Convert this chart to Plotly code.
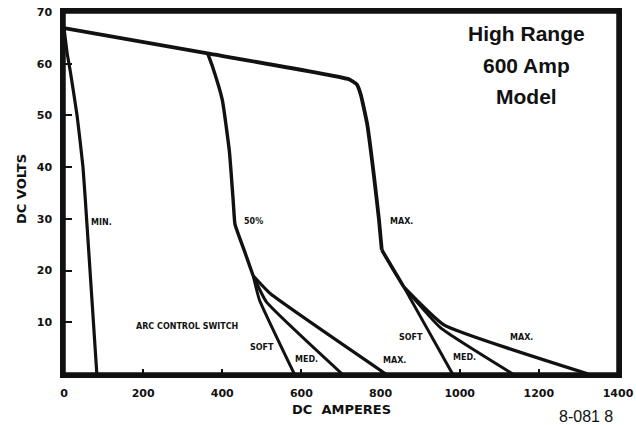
import plotly.graph_objects as go

# ---- data (DC amperes, DC volts) ----
max_dial_a = [0, 363, 720, 740, 750, 766, 783, 796, 803]
max_dial_v = [66.9, 62, 57, 56, 54, 48.4, 38.5, 29.8, 24]

min_a = [0, 8, 16, 33, 48, 58, 83]
min_v = [66.9, 62, 58.5, 50, 40, 29, 0]

pct50_a = [363, 375, 400, 418, 428, 432, 455, 478]
pct50_v = [62, 59.5, 53, 43, 33, 29, 24, 19]

p50_soft_a = [478, 494, 582]
p50_soft_v = [19, 14.3, 0]
p50_med_a = [478, 511, 703]
p50_med_v = [19, 14, 0]
p50_max_a = [478, 522, 813]
p50_max_v = [19, 15.5, 0]

maxr_shared_a = [803, 830, 859]
maxr_shared_v = [24, 20.5, 16.8]
maxr_soft_a = [859, 982]
maxr_soft_v = [16.8, 0]
maxr_med_a = [859, 952, 1134]
maxr_med_v = [16.8, 8.9, 0]
maxr_max_a = [859, 960, 1325]
maxr_max_v = [16.8, 9.5, 0]

x_ticks = [0, 200, 400, 600, 800, 1000, 1200, 1400]
y_ticks = [10, 20, 30, 40, 50, 60, 70]

# curve labels: (text, amps, volts)
curve_labels = [
    ("MIN.", 96, 29.2), ("50%", 480, 29.4), ("MAX.", 852, 29.4),
    ("ARC CONTROL SWITCH", 311, 9.1),
    ("SOFT", 500, 5.2), ("MED.", 614, 2.9), ("MAX.", 834, 2.7),
    ("SOFT", 877, 7.0), ("MED.", 1011, 3.1), ("MAX.", 1155, 7.0),
]
title_lines = [("High Range", 65.8), ("600 Amp", 59.6), ("Model", 53.6)]

INK = "#111111"
fig = go.Figure()
series = [
    (max_dial_a, max_dial_v, 3.8), (min_a, min_v, 3.2), (pct50_a, pct50_v, 3.4),
    (p50_soft_a, p50_soft_v, 3), (p50_med_a, p50_med_v, 3), (p50_max_a, p50_max_v, 3.2),
    (maxr_shared_a, maxr_shared_v, 3.6), (maxr_soft_a, maxr_soft_v, 3),
    (maxr_med_a, maxr_med_v, 3), (maxr_max_a, maxr_max_v, 3.4),
]
for xs, ys, w in series:
    fig.add_trace(go.Scatter(x=xs, y=ys, mode="lines",
                             line=dict(color=INK, width=w, shape="spline", smoothing=0.4),
                             showlegend=False, hoverinfo="skip"))

for txt, a, v in curve_labels:
    fig.add_annotation(x=a, y=v, xref="x", yref="y", text=txt, showarrow=False,
                       xanchor="center", yanchor="middle",
                       font=dict(family="DejaVu Sans", size=8, color=INK, weight="bold"))
for txt, v in title_lines:
    fig.add_annotation(x=1168, y=v, xref="x", yref="y", text=txt, showarrow=False,
                       xanchor="center", yanchor="middle",
                       font=dict(family="Liberation Sans", size=21, color=INK, weight="bold"))

fig.add_annotation(x=0.5, y=-0.099, xref="paper", yref="paper", text="DC  AMPERES",
                   showarrow=False, xanchor="center", yanchor="middle",
                   font=dict(family="DejaVu Sans", size=13, color=INK, weight="bold"))
fig.add_annotation(x=-0.0776, y=0.511, xref="paper", yref="paper", text="DC VOLTS",
                   showarrow=False, textangle=-90, xanchor="center", yanchor="middle",
                   font=dict(family="DejaVu Sans", size=13, color=INK, weight="bold"))
fig.add_annotation(x=0.89, y=-0.088, xref="paper", yref="paper", text="8-081 8",
                   showarrow=False, xanchor="left", yanchor="top",
                   font=dict(family="Liberation Sans", size=16, color=INK))

# chart frame
fig.add_shape(type="rect", xref="paper", yref="paper", x0=0, y0=0, x1=1, y1=1,
              line=dict(color=INK, width=3.5), layer="above")

fig.update_xaxes(range=[0, 1400], tickvals=x_ticks, ticktext=[str(t) for t in x_ticks],
                 showgrid=False, zeroline=False, showline=True, mirror=True, automargin=False,
                 linecolor=INK, linewidth=3.5, ticks="inside", ticklen=5, tickwidth=1.5,
                 tickcolor=INK, ticklabelstandoff=6, ticklabeloverflow="allow",
                 tickfont=dict(family="DejaVu Sans", size=11, color=INK, weight="bold"))
fig.update_yaxes(range=[0, 70], tickvals=y_ticks, ticktext=[str(t) for t in y_ticks],
                 showgrid=False, zeroline=False, showline=True, mirror=True, automargin=False,
                 linecolor=INK, linewidth=3.5, ticks="inside", ticklen=8, tickwidth=1.5,
                 tickcolor=INK, ticklabelstandoff=6, ticklabeloverflow="allow",
                 tickfont=dict(family="DejaVu Sans", size=11, color=INK, weight="bold"))

fig.update_layout(width=636, height=425, margin=dict(l=64, r=18, t=12, b=51, autoexpand=False),
                  plot_bgcolor="white", paper_bgcolor="white")
fig.write_html("out.html", config={"displayModeBar": False},
               post_script="document.body.style.margin='0';document.body.style.overflow='hidden';")
